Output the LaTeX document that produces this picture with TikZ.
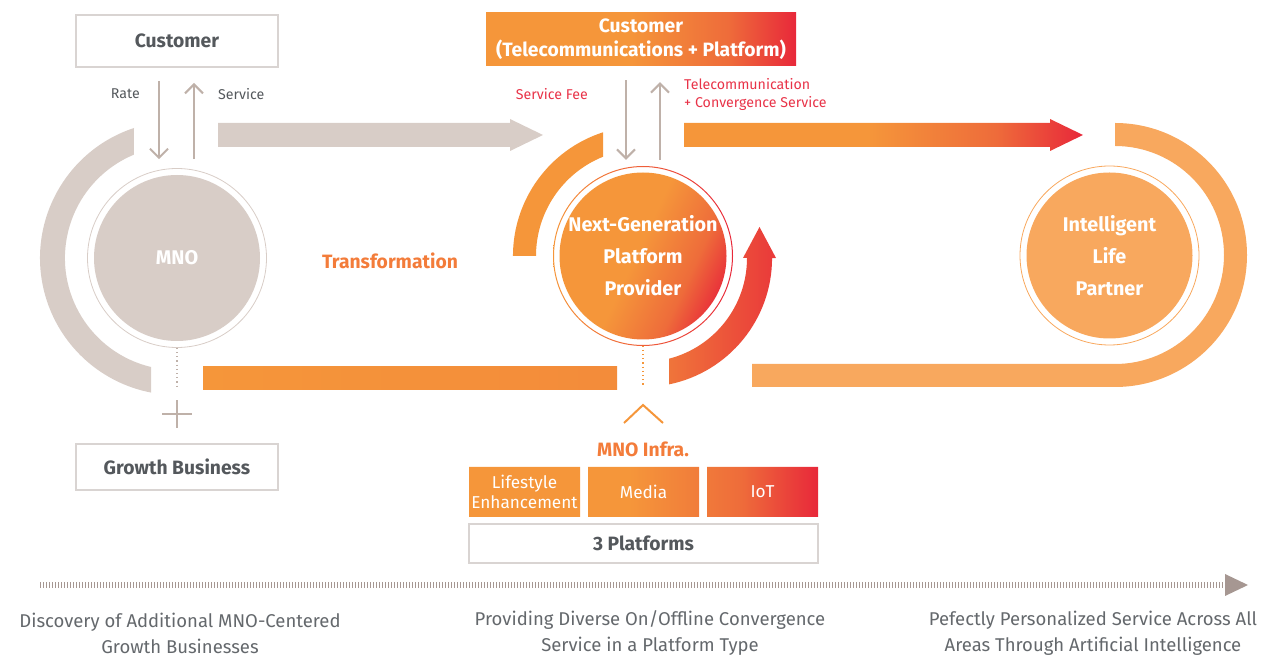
\documentclass[tikz,border=0pt]{standalone}
\usepackage{fontspec}
\setmainfont{Fira Sans}
\usetikzlibrary{arrows.meta, positioning, calc}

\definecolor{boxgray}{RGB}{217, 212, 210}
\definecolor{taupe}{RGB}{191, 177, 169}
\definecolor{mnofill}{RGB}{216, 205, 199}
\definecolor{sko}{RGB}{245, 150, 58}
\definecolor{skmid}{RGB}{238, 108, 58}
\definecolor{skred}{RGB}{232, 40, 58}
\definecolor{sklight}{RGB}{248, 168, 94}
\definecolor{orangetext}{RGB}{243, 124, 58}
\definecolor{textgray}{RGB}{84, 88, 92}
\definecolor{labelred}{RGB}{232, 51, 72}
\definecolor{timegray}{RGB}{166, 151, 146}
\definecolor{captiongray}{RGB}{100, 104, 108}

\pgfdeclarehorizontalshading{orred}{100bp}{color(0bp)=(sko); color(25bp)=(sko); color(48bp)=(sko); color(64bp)=(skmid); color(75bp)=(skred); color(100bp)=(skred)}

\begin{document}
\begin{tikzpicture}[x=1pt, y=1pt,
  graybox/.style={draw=boxgray, line width=2pt, inner sep=0pt, text=textgray, font=\fontsize{19.3}{22}\selectfont\bfseries},
  flowarr/.style={taupe, line width=2pt, -{Straight Barb[length=9pt, width=18pt]}},
  small/.style={inner sep=0pt, font=\fontsize{14.2}{18}\selectfont},
  ringnode/.style={circle, inner sep=0pt, minimum size=179pt, text=white, align=center, font=\fontsize{19.8}{32}\selectfont\bfseries},
  bigtext/.style={font=\fontsize{19.3}{22}\selectfont\bfseries},
  platbox/.style={minimum width=111pt, minimum height=50pt, inner sep=0pt, text=white, align=center, font=\fontsize{17.2}{20}\selectfont},
  caption/.style={text=captiongray, align=center, font=\fontsize{18.5}{26}\selectfont}
]
  \useasboundingbox (0,0) rectangle (1262,656);

  % LEFT: MNO today
  \fill[mnofill] (134,528) arc[start angle=108.3, end angle=259.1, radius=137pt]
    -- (151,289) arc[start angle=256.6, end angle=112.6, radius=112pt] -- cycle;

  \node[graybox, minimum width=202pt, minimum height=52pt] (cust) at (177,615) {Customer};
  \node[ringnode, draw=mnofill, line width=0.8pt,
    path picture={\fill[mnofill] (path picture bounding box.center) circle (83pt);}] (mno) at (177,398) {MNO};

  \draw[flowarr] ([xshift=-18pt,yshift=-13pt]cust.south) -- ([xshift=-18pt,yshift=9pt]mno.north);
  \draw[flowarr] ([xshift=17pt,yshift=9pt]mno.north) -- ([xshift=17pt,yshift=-15pt]cust.south);
  \node[small, text=textgray, anchor=east] (rate) at (140,562) {Rate};
  \node[small, text=textgray, anchor=west] (serv) at (218,562) {Service};

  % Transformation arrow
  \fill[mnofill] (218,509) -- (510,509) -- (510,505) -- (543,521) -- (510,537) -- (510,533) -- (218,533) -- cycle;
  \node[bigtext, text=orangetext] (transf) at (390,395) {Transformation};

  \draw[taupe, line width=1.2pt, dash pattern=on 1.2pt off 3pt] (mno.south) -- ++(0,-38);
  \draw[taupe, line width=2pt] (162,242) -- (192,242) (177,228) -- (177,256);
  \node[graybox, minimum width=202pt, minimum height=46pt] (growth) at (177,189) {Growth Business};

  \shade[left color=sko, right color=sko!75!skmid] (203,266) rectangle (617,289);

  % CENTER: Next-Generation Platform Provider
  \fill[sko] (603,523.7) arc[start angle=107.9, end angle=180, radius=130pt]
    -- (536,400) arc[start angle=180, end angle=111.95, radius=107pt] -- cycle;
  \shade[left color=skmid!80!sko, right color=skred!75!skmid]
    (669,271.6) arc[start angle=-78.4, end angle=0, radius=129pt]
    -- (776,398) -- (759.5,429) -- (743,398) -- (747,398)
    arc[start angle=0, end angle=-75.5, radius=104pt] -- cycle;

  \node[shade, shading=orred, minimum width=310pt, minimum height=53pt, inner sep=0pt, text=white, align=center,
    font=\fontsize{19.3}{24}\selectfont\bfseries] (custtp) at (641,616.5) {Customer\\(Telecommunications + Platform)};
  \node[ringnode,
    path picture={\shade[shading=orred, shading angle=-25] (path picture bounding box.center) circle (83.5pt);}] (ngpp) at (643,400)
    {Next-Generation\\Platform\\Provider};
  \path[left color=sko, right color=skred, even odd rule] (ngpp.center) circle (90pt) circle (89pt);

  \draw[flowarr] ([xshift=-17pt,yshift=-14pt]ngpp.north |- custtp.south) -- ([xshift=-17pt,yshift=6.5pt]ngpp.north);
  \draw[flowarr] ([xshift=17pt,yshift=6.5pt]ngpp.north) -- ([xshift=17pt,yshift=-16pt]ngpp.north |- custtp.south);
  \node[small, text=labelred, anchor=east] (fee) at (588,562) {Service Fee};
  \node[small, text=labelred, anchor=west, align=left] (conv) at (684,562) {Telecommunication\\+ Convergence Service};

  \shade[shading=orred] (684,509) -- (1050,509) -- (1050,505) -- (1083,521) -- (1050,537) -- (1050,533) -- (684,533) -- cycle;

  % MNO infra and platforms
  \draw[sko, line width=1.2pt, dash pattern=on 1.2pt off 3pt] (ngpp.south) -- ++(0,-39.5);
  \draw[sko, line width=2pt] (624,233) -- (643,251) -- (663,233);
  \node[bigtext, text=orangetext] (infra) at (643,207) {MNO Infra.};

  \shade[shading=orred] (469,139) rectangle (580,189) (588,139) rectangle (699,189) (707,139) rectangle (818,189);
  \node[platbox] (life) at (524.5,164) {Lifestyle\\Enhancement};
  \node[platbox] (media) at (643.5,164) {Media};
  \node[platbox] (iot) at (762.5,164) {IoT};
  \node[graybox, minimum width=349pt, minimum height=39pt] (platf) at (643.5,112.5) {3 Platforms};

  % RIGHT: Intelligent Life Partner
  \fill[sklight] (1115,533) arc[start angle=90, end angle=-90, radius=132pt]
    -- (752,269) -- (752,292) -- (1115,292) arc[start angle=-90, end angle=90, radius=109pt] -- cycle;
  \node[ringnode, draw=sklight, line width=0.8pt,
    path picture={\fill[sklight] (path picture bounding box.center) circle (83pt);}] (ilp) at (1109.5,400.5)
    {Intelligent\\Life\\Partner};

  % Timeline
  \coordinate (tstart) at (40,71);
  \coordinate (tend) at (1225,71);
  \draw[timegray, line width=6pt, dash pattern=on 1.3pt off 1.7pt] (tstart) -- (tend);
  \fill[timegray] ([yshift=-11pt]tend) -- ++(23,11) -- ([yshift=11pt]tend) -- cycle;

  \node[caption] (disc) at (180,23) {Discovery of Additional MNO-Centered\\Growth Businesses};
  \node[caption] (prov) at (650,23) {Providing Diverse On/Offline Convergence\\Service in a Platform Type};
  \node[caption] (pers) at (1093,23) {Pefectly Personalized Service Across All\\Areas Through Artificial Intelligence};
\end{tikzpicture}
\end{document}
